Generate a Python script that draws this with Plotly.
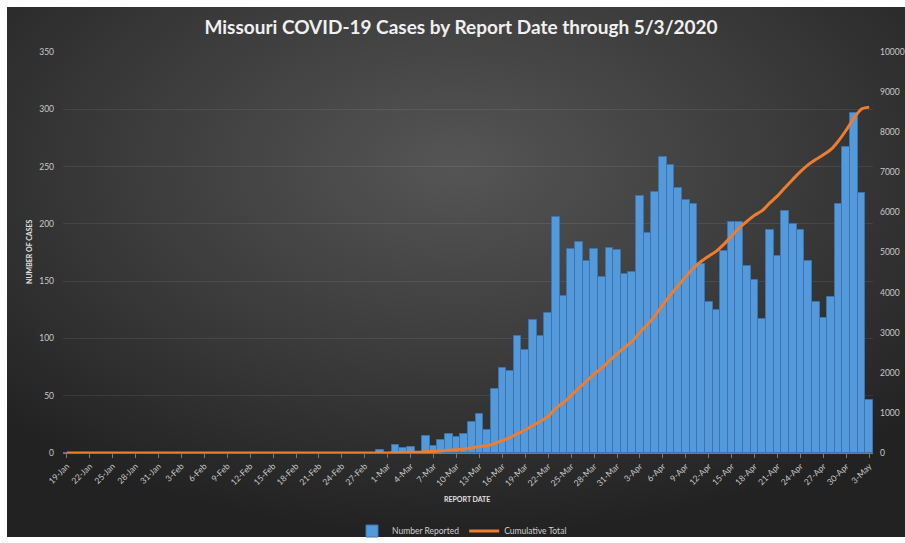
import base64
import pandas as pd
import plotly.graph_objects as go

# ---- data ----
dates = pd.date_range("2020-01-19", "2020-05-03", freq="D")
categories = [f"{d.day}-{d.strftime('%b')}" for d in dates]

number_reported = [0] * 41 + [
    3, 0, 7, 4, 5, 0, 15, 6, 11, 17, 14, 17, 27, 34, 20,
    56, 74, 72, 102, 90, 116, 102, 122,
    206, 137, 178, 184, 168, 178, 154, 179, 177, 156, 158,
    224, 192, 228, 258, 251, 231, 221, 217, 165, 132, 125,
    176, 202, 202, 163, 151, 117, 195, 172, 211, 200,
    195, 168, 132, 118, 136, 217, 267, 297, 227, 46,
]

cumulative_total = [0] * 41 + [
    3, 3, 10, 14, 19, 19, 34, 40, 51, 68, 82, 99, 126, 160, 180,
    236, 310, 382, 484, 574, 690, 792, 914,
    1120, 1257, 1435, 1619, 1787, 1965, 2119, 2298, 2475, 2631, 2789,
    3013, 3205, 3433, 3691, 3942, 4173, 4394, 4611, 4776, 4908, 5033,
    5209, 5411, 5613, 5776, 5927, 6044, 6239, 6411, 6622, 6822,
    7017, 7185, 7317, 7435, 7571, 7788, 8055, 8352, 8579, 8625,
]

tick_labels = categories[::3]

# ---- styling ----
FONT = "Lato"
TICK_COLOR = "#c9c9c9"

W, H = 905, 543
L, R, T, B = 63, 32, 52, 90
pw, ph = W - L - R, H - T - B


def px_to_paper_x(px):
    return (px - L) / pw


def px_to_paper_y(py):
    return (H - B - py) / ph


svg = """<svg xmlns='http://www.w3.org/2000/svg' width='898' height='530' viewBox='0 0 898 530' preserveAspectRatio='none'>
<defs><radialGradient id='g' cx='50%' cy='30%' r='70%'>
<stop offset='0%' stop-color='#555555'/>
<stop offset='55%' stop-color='#3a3a3a'/>
<stop offset='100%' stop-color='#222222'/>
</radialGradient></defs>
<rect x='0' y='0' width='898' height='530' fill='url(#g)'/>
</svg>"""
bg_uri = "data:image/svg+xml;base64," + base64.b64encode(svg.encode()).decode()

fig = go.Figure()

fig.add_trace(go.Bar(
    x=categories, y=number_reported, name="Number Reported",
    marker=dict(color="#5499d9", line=dict(color="#3b74b0", width=1)),
    yaxis="y",
))

fig.add_trace(go.Scatter(
    x=categories, y=cumulative_total, name="Cumulative Total",
    mode="lines", line=dict(color="#ED7D31", width=3, shape="spline", smoothing=0.6),
    yaxis="y2",
))

x0, x1 = px_to_paper_x(7), px_to_paper_x(905)
y0, y1 = px_to_paper_y(7), px_to_paper_y(537)

fig.update_layout(
    width=W, height=H,
    margin=dict(l=L, r=R, t=T, b=B, autoexpand=False),
    paper_bgcolor="white",
    plot_bgcolor="rgba(0,0,0,0)",
    font=dict(family=FONT, color=TICK_COLOR, size=8),
    images=[dict(source=bg_uri, xref="paper", yref="paper",
                 x=x0, y=y0, sizex=x1 - x0, sizey=y0 - y1,
                 xanchor="left", yanchor="top", sizing="stretch", layer="below")],
    title=dict(text="Missouri COVID-19 Cases by Report Date through 5/3/2020",
               x=461 / W, xanchor="center", y=1 - 27 / H, yanchor="middle",
               font=dict(family=FONT, size=19, color="#f0f0f0", weight="bold")),
    bargap=0,
    showlegend=True,
    legend=dict(orientation="h", x=px_to_paper_x(462), xanchor="center",
                y=px_to_paper_y(531), yanchor="middle",
                font=dict(family=FONT, size=8.5, color="#d0d0d0"),
                bgcolor="rgba(0,0,0,0)"),
    xaxis=dict(
        type="category",
        tickmode="array", tickvals=tick_labels, ticktext=tick_labels,
        tickangle=-45, tickfont=dict(size=8.5, color=TICK_COLOR),
        showgrid=False, showline=True, linecolor="#7a7a7a", linewidth=1,
        ticks="outside", ticklen=4, tickcolor="#7a7a7a",
        range=[-0.5, len(categories) - 0.5],
    ),
    yaxis=dict(
        range=[0, 350], dtick=50, showgrid=True,
        gridcolor="rgba(255,255,255,0.08)", gridwidth=1,
        zeroline=False, showline=False, ticks="",
        tickfont=dict(size=8.5, color=TICK_COLOR), ticklabelstandoff=8,
    ),
    yaxis2=dict(
        range=[0, 10000], dtick=1000, overlaying="y", side="right",
        tickformat="d",
        showgrid=False, zeroline=False, showline=False, ticks="",
        tickfont=dict(size=8.5, color=TICK_COLOR), ticklabelstandoff=6,
    ),
    annotations=[
        dict(text="<b>NUMBER OF CASES</b>", xref="paper", yref="paper",
             x=px_to_paper_x(29), y=px_to_paper_y(252), textangle=-90,
             showarrow=False, font=dict(family=FONT, size=7, color="#e0e0e0"),
             xanchor="center", yanchor="middle"),
        dict(text="<b>REPORT DATE</b>", xref="paper", yref="paper",
             x=px_to_paper_x(467), y=px_to_paper_y(499),
             showarrow=False, font=dict(family=FONT, size=7, color="#e0e0e0"),
             xanchor="center", yanchor="middle"),
    ],
)

fig.write_html("out.html",
               config={"displayModeBar": False},
               post_script="document.body.style.margin='0';document.body.style.padding='0';")
